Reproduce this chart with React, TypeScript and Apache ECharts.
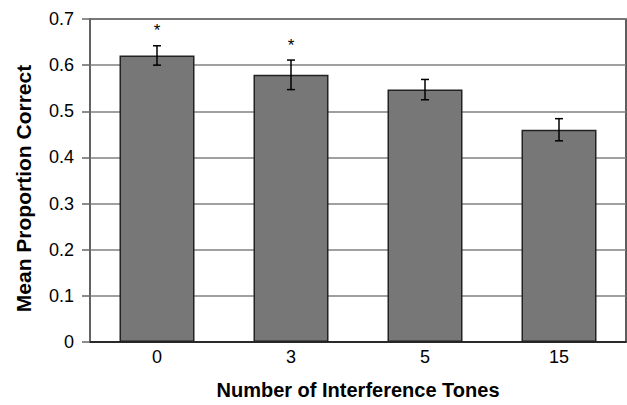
import React, { useEffect, useRef } from "react";
import * as echarts from "echarts";

const categories = ["0", "3", "5", "15"];
const means = [0.621, 0.579, 0.547, 0.46];
const errors = [0.021, 0.032, 0.022, 0.024];
const significant = [true, true, false, false];
const yTicks = { min: 0, max: 0.7, interval: 0.1 };

export default function App() {
  const ref = useRef<HTMLDivElement>(null);
  useEffect(() => {
    if (!ref.current) return;
    const chart = echarts.init(ref.current, undefined, { renderer: "svg" });
    const errData = means.map((m, i) => [i, m - errors[i], m + errors[i], significant[i] ? 1 : 0]);
    chart.setOption({
      animation: false,
      backgroundColor: "#ffffff",
      textStyle: { fontFamily: "Liberation Sans, Arial, sans-serif" },
      grid: {
        left: 90,
        right: 1,
        top: 19,
        bottom: 57,
        show: true,
        borderColor: "#2a2a2a",
        borderWidth: 1.5,
      },
      xAxis: {
        type: "category",
        data: categories,
        name: "Number of Interference Tones",
        nameLocation: "middle",
        nameGap: 38,
        nameTextStyle: { fontSize: 20, fontWeight: "bold", color: "#000" },
        axisLine: { lineStyle: { color: "#111", width: 1.5 } },
        axisTick: { show: false },
        axisLabel: { fontSize: 18, color: "#000", margin: 6 },
      },
      yAxis: {
        type: "value",
        min: yTicks.min,
        max: yTicks.max,
        interval: yTicks.interval,
        name: "Mean Proportion Correct",
        nameLocation: "middle",
        nameGap: 56,
        nameTextStyle: { fontSize: 21, fontWeight: "bold", color: "#000", padding: [0, 16, 0, 0] },
        axisLine: { show: true, lineStyle: { color: "#666", width: 1.5 } },
        axisTick: { show: true, length: 8, lineStyle: { color: "#666", width: 1.5 } },
        axisLabel: { fontSize: 18, color: "#000", margin: 16 },
        splitLine: { lineStyle: { color: "#808080", width: 1.5 } },
      },
      series: [
        {
          type: "bar",
          data: means,
          barWidth: 75,
          itemStyle: { color: "#777777", borderColor: "#222", borderWidth: 1.5 },
          z: 2,
        },
        {
          type: "custom",
          data: errData,
          z: 5,
          encode: { x: 0, y: [1, 2] },
          renderItem: (params: any, api: any) => {
            const x = api.value(0);
            const lo = api.coord([x, api.value(1)]);
            const hi = api.coord([x, api.value(2)]);
            const cap = 4;
            const style = { stroke: "#000", lineWidth: 1.5 };
            const children: any[] = [
              { type: "line", shape: { x1: hi[0], y1: hi[1], x2: lo[0], y2: lo[1] }, style },
              { type: "line", shape: { x1: hi[0] - cap, y1: hi[1], x2: hi[0] + cap, y2: hi[1] }, style },
              { type: "line", shape: { x1: lo[0] - cap, y1: lo[1], x2: lo[0] + cap, y2: lo[1] }, style },
            ];
            if (api.value(3) === 1) {
              children.push({
                type: "text",
                x: hi[0],
                y: hi[1] - 15,
                style: {
                  text: "*",
                  fontSize: 17,
                  fill: "#000",
                  align: "center",
                  verticalAlign: "middle",
                  fontFamily: "Liberation Sans, Arial, sans-serif",
                },
              });
            }
            return { type: "group", children };
          },
        },
      ],
    });
    return () => chart.dispose();
  }, []);
  return <div ref={ref} style={{ width: 627, height: 405, position: "absolute", left: 0, top: 0 }} />;
}
